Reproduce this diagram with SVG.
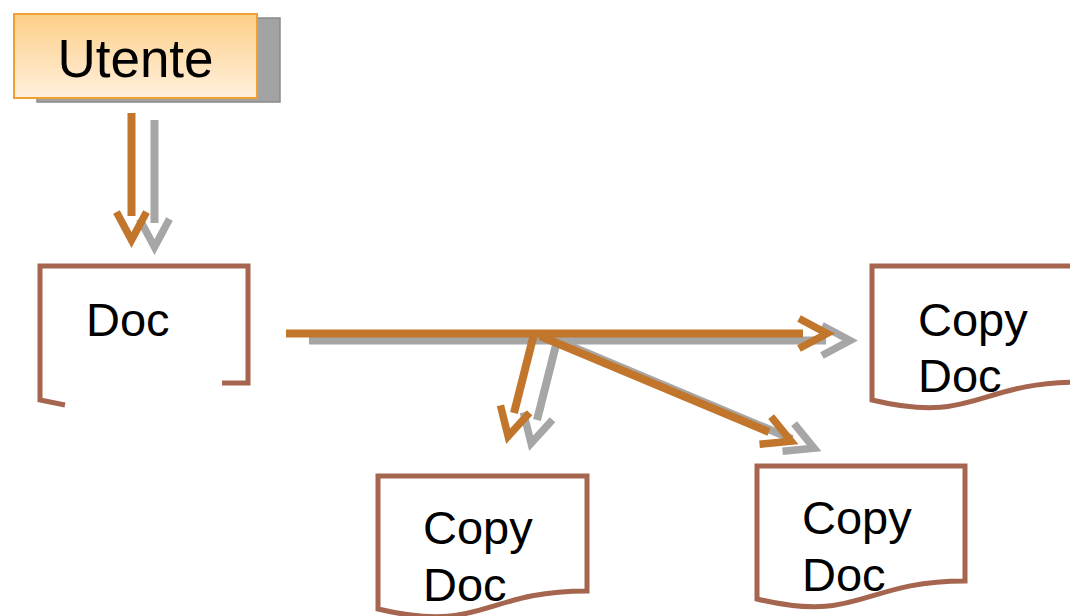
<svg xmlns="http://www.w3.org/2000/svg" width="1070" height="616" viewBox="0 0 1070 616">
  <style>
    .lbl { font-family: "Liberation Sans", Arial, sans-serif; fill: #000; }
    .doc { fill: #fff; stroke: #a5654e; stroke-width: 5; stroke-linejoin: miter; }
    .docopen { fill: none; stroke: #a5654e; stroke-width: 5; }
    .ln-o { fill: none; stroke: #c2762b; stroke-width: 8; marker-end: url(#chev-o); }
    .ln-g { fill: none; stroke: #a6a6a6; stroke-width: 8; marker-end: url(#chev-g); }
  </style>
  <defs>
    <linearGradient id="ugrad" x1="0" y1="0" x2="0" y2="1">
      <stop offset="0" stop-color="#fdcf88"/>
      <stop offset="1" stop-color="#fff0dd"/>
    </linearGradient>
    <marker id="chev-o" markerUnits="userSpaceOnUse" markerWidth="40" markerHeight="40" refX="4" refY="0" orient="auto" overflow="visible">
      <path d="M0,-15 L28,0 L0,15" fill="none" stroke="#c2762b" stroke-width="7.5"/>
    </marker>
    <marker id="chev-g" markerUnits="userSpaceOnUse" markerWidth="40" markerHeight="40" refX="4" refY="0" orient="auto" overflow="visible">
      <path d="M0,-15 L28,0 L0,15" fill="none" stroke="#a6a6a6" stroke-width="7.5"/>
    </marker>
  </defs>

  <g id="utente">
    <rect x="37" y="18" width="243" height="84" fill="#a3a3a3" stroke="#8a8a8a" stroke-width="1.5"/>
    <rect x="14" y="14" width="243" height="84" fill="url(#ugrad)" stroke="#f0a033" stroke-width="2"/>
    <text class="lbl" x="135.5" y="77" font-size="53" text-anchor="middle">Utente</text>
  </g>

  <g id="doc">
    <path class="docopen" d="M65,405 L40,400 V266 H248 V383 H222"/>
    <text class="lbl" x="86" y="336" font-size="47">Doc</text>
  </g>

  <g id="copydoc1">
    <path class="doc" d="M378,476 H587 V591 C483,591 483,634 378,609 Z"/>
    <text class="lbl" font-size="47"><tspan x="423" y="544">Copy</tspan><tspan x="423" y="601">Doc</tspan></text>
  </g>

  <g id="copydoc2">
    <path class="doc" d="M757,466 H965 V581 C861,581 861,624 757,599 Z"/>
    <text class="lbl" font-size="47"><tspan x="802" y="534">Copy</tspan><tspan x="802" y="591">Doc</tspan></text>
  </g>

  <g id="copydoc3">
    <path class="doc" d="M872,266 H1080 V382 C976,382 976,425 872,400 Z"/>
    <text class="lbl" font-size="47"><tspan x="918" y="336">Copy</tspan><tspan x="918" y="392">Doc</tspan></text>
  </g>

  <g id="connectors">
    <g transform="translate(23,7)">
      <path class="ln-g" d="M131.5,113 V216"/>
      <path class="ln-g" d="M286,333.5 H803"/>
      <path class="ln-g" d="M534,334 L514,413"/>
      <path class="ln-g" d="M540,336 L769,432"/>
    </g>
    <path class="ln-o" d="M131.5,113 V216"/>
    <path class="ln-o" d="M286,333.5 H803"/>
    <path class="ln-o" d="M534,334 L514,413"/>
    <path class="ln-o" d="M540,336 L769,432"/>
  </g>
</svg>
